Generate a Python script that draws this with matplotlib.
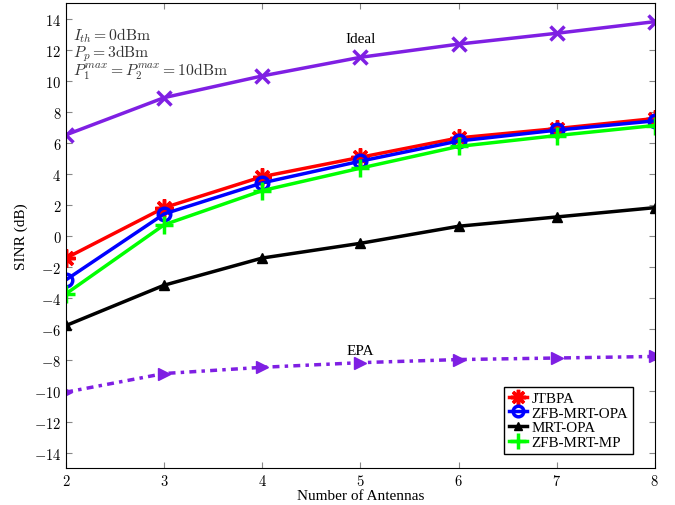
import matplotlib
matplotlib.use('Agg')
import matplotlib.pyplot as plt

antennas = [2, 3, 4, 5, 6, 7, 8]
ideal = [6.5, 8.9, 10.3, 11.5, 12.35, 13.05, 13.8]
jtbpa = [-1.45, 1.8, 3.8, 5.05, 6.3, 6.9, 7.55]
zfb_mrt_opa = [-2.85, 1.4, 3.4, 4.8, 6.1, 6.8, 7.4]
mrt_opa = [-5.8, -3.2, -1.45, -0.5, 0.6, 1.2, 1.8]
zfb_mrt_mp = [-3.75, 0.7, 2.9, 4.35, 5.75, 6.45, 7.1]
epa = [-10.1, -8.9, -8.5, -8.2, -8.0, -7.9, -7.8]

yticks = list(range(-14, 15, 2))

plt.rcParams['font.family'] = 'serif'
plt.rcParams['font.serif'] = ['cmr10', 'DejaVu Serif']
plt.rcParams['mathtext.fontset'] = 'cm'
plt.rcParams['axes.formatter.use_mathtext'] = True

times = 'Liberation Serif'
purple = '#7F1FE3'

fig = plt.figure(figsize=(6.75, 5.06), dpi=100)
ax = fig.add_axes([0.098, 0.073, 0.872, 0.919])

ax.plot(antennas, ideal, color=purple, lw=2.5, marker='x', ms=10, mew=2.5)
ax.plot(antennas, epa, color=purple, lw=2.5, ls=(0, (2, 1.5, 1, 1.5)), marker='>', ms=8)
ax.plot(antennas, jtbpa, color='red', lw=2.5, marker=(8, 2, 0), ms=13, mew=2.5, label='JTBPA')
ax.plot(antennas, zfb_mrt_opa, color='blue', lw=2.5, marker='o', ms=9, mew=2.5, mfc='none', label='ZFB-MRT-OPA')
ax.plot(antennas, mrt_opa, color='black', lw=2.5, marker='^', ms=7, label='MRT-OPA')
ax.plot(antennas, zfb_mrt_mp, color='#00FF00', lw=2.5, marker='+', ms=13, mew=2.5, label='ZFB-MRT-MP')

ax.text(5.0, 12.3, 'Ideal', ha='center', va='bottom', fontsize=11, family=times)
ax.text(5.0, -7.85, 'EPA', ha='center', va='bottom', fontsize=11, family=times)
ax.text(2.07, 13.55, r'$I_{th}=0$dBm' + '\n' + r'$P_p=3$dBm' + '\n' + r'$P_1^{max}=P_2^{max}=10$dBm',
        ha='left', va='top', fontsize=11.3, linespacing=0.85, color='#333333')

ax.set_xlim(2, 8)
ax.set_ylim(-15, 15)
ax.set_yticks(yticks)
ax.set_xticks(antennas)
ax.tick_params(direction='in', top=True, right=True, labelsize=10.5, length=4, color='#888888')
ax.set_xlabel('Number of Antennas', fontsize=11, labelpad=1, family=times)
ax.set_ylabel('SINR (dB)', fontsize=11, family=times)

leg = ax.legend(loc='lower right', bbox_to_anchor=(0.975, 0.015), prop={'family': times, 'size': 10.8},
                fancybox=False, edgecolor='black', handlelength=1.2, handletextpad=0.3, borderpad=0.3,
                labelspacing=0.08, framealpha=1, markerscale=0.85)
leg.get_frame().set_linewidth(1.0)

fig.savefig('out.png', dpi=100)
